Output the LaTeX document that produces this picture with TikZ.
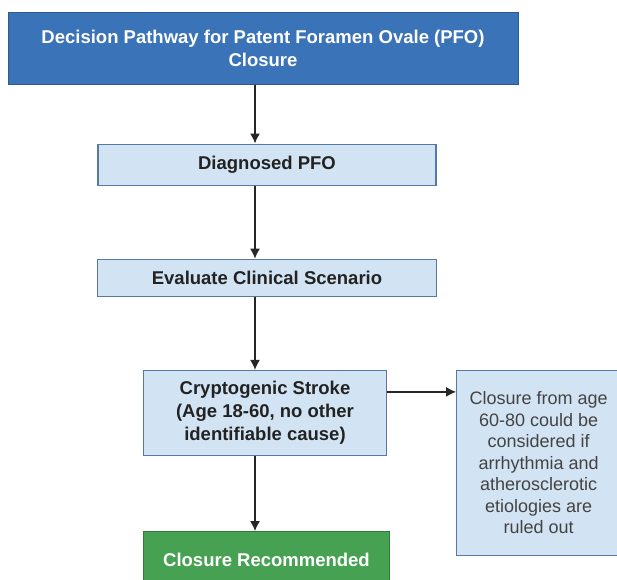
\documentclass[tikz,border=0pt]{standalone}
\usepackage{fontspec}
\setmainfont{Liberation Sans}
\usepackage{tikz}
\usetikzlibrary{positioning, arrows.meta}

\definecolor{titleblue}{HTML}{3A73B8}
\definecolor{titleedge}{HTML}{2B5C96}
\definecolor{paleblue}{HTML}{D2E4F3}
\definecolor{paleedge}{HTML}{5679A3}
\definecolor{okgreen}{HTML}{47A152}
\definecolor{okedge}{HTML}{2F7D3A}
\definecolor{bodytext}{HTML}{222222}

\tikzstyle{headbox} = [rectangle, fill=titleblue, draw=titleedge, line width=1pt, text=white, font=\fontsize{18.5}{23}\selectfont\bfseries, align=center]
\tikzstyle{stepbox} = [rectangle, fill=paleblue, draw=paleedge, line width=1.2pt, text=bodytext, font=\fontsize{18.5}{23}\selectfont\bfseries, align=center]
\tikzstyle{notebox} = [rectangle, fill=paleblue, draw=paleedge, line width=1.2pt, text=bodytext!85, font=\fontsize{18}{21.5}\selectfont, align=center]
\tikzstyle{endbox} = [rectangle, fill=okgreen, draw=okedge, line width=1pt, text=white, font=\fontsize{18.5}{23}\selectfont\bfseries, align=center]
\tikzstyle{arrow} = [line width=1.5pt, draw=black!85, -{Latex[length=10pt,width=10pt]}]

\begin{document}
\begin{tikzpicture}[x=1pt, y=-1pt, node distance=59pt]
\useasboundingbox (0,0) rectangle (617,579);

% Title
\node[headbox, minimum width=510pt, minimum height=72pt] (title) at (263,48) {Decision Pathway for Patent Foramen Ovale (PFO)\\Closure};

% Diagnosis and evaluation
\node[stepbox, minimum width=338pt, minimum height=41pt, below=of title, xshift=4pt] (diagnosed) {Diagnosed PFO};
\node[stepbox, minimum width=339pt, minimum height=37pt, below=73pt of diagnosed] (evaluate) {Evaluate Clinical Scenario};

% Cryptogenic stroke
\node[stepbox, minimum width=243pt, minimum height=85pt, inner sep=2pt, below=73pt of evaluate, xshift=-2pt] (stroke) {Cryptogenic Stroke\\(Age 18-60, no other\\identifiable cause)};

% Older patients
\node[notebox, minimum width=164pt, minimum height=185pt, right=69pt of stroke.north east, anchor=north west] (older) {Closure from age\\60-80 could be\\considered if\\arrhythmia and\\atherosclerotic\\etiologies are\\ruled out};

% Outcome
\node[endbox, minimum width=246pt, minimum height=56pt, below=75pt of stroke, xshift=1.5pt] (closure) {Closure Recommended};

% Arrows
\coordinate (spine) at (255,0);
\draw[arrow] (title.south -| spine) -- (diagnosed.north -| spine);
\draw[arrow] (diagnosed.south -| spine) -- (evaluate.north -| spine);
\draw[arrow] (evaluate.south -| spine) -- (stroke.north -| spine);
\draw[arrow] (stroke.south -| spine) -- (closure.north -| spine);
\draw[arrow] ([yshift=-22pt]stroke.north east) -- ([yshift=-22pt]older.north west);

\end{tikzpicture}
\end{document}
